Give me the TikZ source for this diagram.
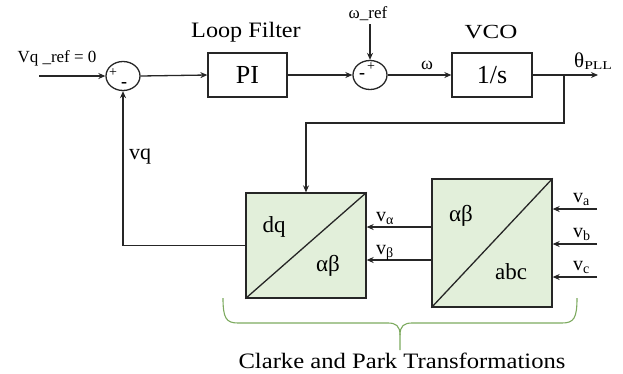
\documentclass[tikz,border=0pt]{standalone}
\usepackage{graphicx}
\usepackage{fontspec}
\setmainfont{Liberation Serif}
\usetikzlibrary{arrows.meta,shapes.geometric}
\definecolor{ln}{HTML}{262626}
\definecolor{bx}{HTML}{E2EFDA}
\definecolor{br}{RGB}{125,170,95}
\newcommand{\fs}[1]{\fontsize{#1}{#1}\selectfont}
\begin{document}
\begin{tikzpicture}[x=1pt,y=-1pt,
  wire/.style={draw=ln,line width=1.3pt},
  arr/.style={wire,-{Stealth[length=7pt,width=6pt]}},
  sumnode/.style={ellipse,draw=ln,line width=1.3pt,minimum width=34pt,minimum height=29pt,inner sep=0},
  blk/.style={rectangle,draw=ln,line width=1.3pt,inner sep=0},
  tbox/.style={blk,fill=bx},
  lab/.style={inner sep=0,text=black}]
\useasboundingbox (0,0) rectangle (623,373);

% top row
\coordinate (in) at (39,76);
\node[sumnode] (s1) at (123,76) {};
\node[lab] (s1p) at (113,73) {\fs{14}+};
\node[lab] (s1m) at (124,85) {\fs{18}\textbf{-}};
\node[blk,minimum width=79pt,minimum height=44pt] (pi) at (247.5,75) {\fs{26}PI};
\node[sumnode] (s2) at (370,75) {};
\node[lab] (s2m) at (362,76) {\fs{18}\textbf{-}};
\node[lab] (s2p) at (371,67) {\fs{14}+};
\coordinate (wref) at (370,24);
\node[blk,minimum width=80pt,minimum height=44pt] (vco) at (492,75) {\fs{26}1/s};
\coordinate (out) at (598,75);
\coordinate (br1) at (564,75);
\coordinate (br2) at (564,123);

% transformation blocks
\node[tbox,minimum width=120pt,minimum height=105pt] (dq) at (306,245.5) {};
\node[tbox,minimum width=120pt,minimum height=128pt] (ab) at (492,243) {};
\draw[wire] (dq.south west) -- (dq.north east);
\draw[wire] (ab.south west) -- (ab.north east);
\node[lab] (tdq) at (274,227) {\fs{23}dq};
\node[lab] (tab1) at (328,266) {\fs{23}αβ};
\node[lab] (tab2) at (461,216) {\fs{23}αβ};
\node[lab] (tabc) at (511,272) {\fs{23}abc};

\coordinate (ya) at (0,227);
\coordinate (yb) at (0,260);
\coordinate (va) at (597,209);
\coordinate (vb) at (597,244);
\coordinate (vc) at (597,277);

% connectors
\draw[arr] (in) -- (s1.west);
\draw[arr] (s1.east) -- (pi.west);
\draw[arr] (pi.east) -- (s2.west);
\draw[arr] (wref) -- (s2.north);
\draw[arr] (s2.east) -- (vco.west);
\draw[arr] (vco.east) -- (out);
\draw[arr] (br1) -- (br2) -| (dq.north);
\draw[arr] (dq.west) -| (s1.south);
\draw[arr] (ab.west |- ya) -- (dq.east |- ya);
\draw[arr] (ab.west |- yb) -- (dq.east |- yb);
\draw[arr] (va) -- (ab.east |- va);
\draw[arr] (vb) -- (ab.east |- vb);
\draw[arr] (vc) -- (ab.east |- vc);

% labels
\node[lab,anchor=base] (lref) at (57,62) {\fs{17}Vq \_ref = 0};
\node[lab,anchor=base] (lf) at (246,37) {\fs{22}\scalebox{1.1}[1]{Loop Filter}};
\node[lab,anchor=base] (lwref) at (368,18) {\fs{17}ω\_ref};
\node[lab,anchor=base] (lvco) at (491,38) {\fs{20}\scalebox{1.25}[1]{VCO}};
\node[lab,anchor=base] (lw) at (427,69) {\fs{18}ω};
\node[lab,anchor=base west] (lth) at (574,67) {\fs{21}θ\raisebox{-2pt}{\fs{12}\scalebox{1.3}[1]{PLL}}};
\node[lab,anchor=base] (lvq) at (140,159) {\fs{22}vq};
\node[lab,anchor=base west] (lva) at (376,221) {\fs{20}v\raisebox{-3pt}{\fs{14}α}};
\node[lab,anchor=base west] (lvb) at (376,254) {\fs{20}v\raisebox{-3pt}{\fs{14}β}};
\node[lab,anchor=base west] (lvA) at (573,202) {\fs{20}v\raisebox{-3pt}{\fs{14}a}};
\node[lab,anchor=base west] (lvB) at (573,237) {\fs{20}v\raisebox{-3pt}{\fs{14}b}};
\node[lab,anchor=base west] (lvC) at (573,270) {\fs{20}v\raisebox{-3pt}{\fs{14}c}};

% brace
\draw[draw=br,line width=1.1pt]
  (223,298) .. controls (223,318) and (226,323) .. (238,323) -- (388,323)
  .. controls (396,323) and (400,326) .. (400,335) -- (400,350);
\draw[draw=br,line width=1.1pt]
  (400,335) .. controls (400,326) and (404,323) .. (412,323) -- (562,323)
  .. controls (574,323) and (577,318) .. (577,298);
\node[lab,anchor=base] (lcp) at (402,368) {\fs{22}\scalebox{1.12}[1]{Clarke and Park Transformations}};
\end{tikzpicture}
\end{document}
